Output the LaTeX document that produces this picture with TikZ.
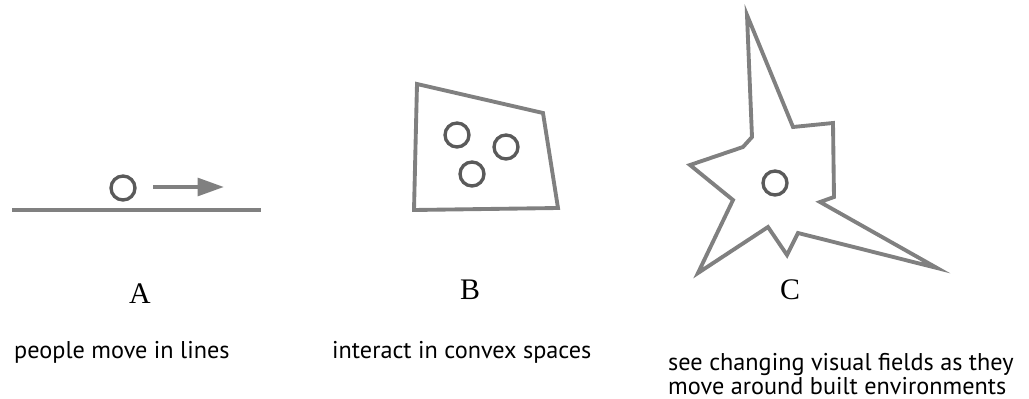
\documentclass[tikz,border=0pt]{standalone}
\usepackage{fontspec}
\setmainfont{Liberation Serif}
\setsansfont{PT Sans}
\usetikzlibrary{positioning,arrows.meta}

\definecolor{linegray}{RGB}{128,128,128}
\definecolor{ringgray}{RGB}{90,90,90}

\tikzset{
  wall/.style={draw=linegray, line width=2.2pt, line join=miter},
  person/.style={draw=ringgray, line width=1.9pt},
  letter/.style={font=\fontsize{17}{20}\selectfont},
  caption/.style={font=\sffamily\fontsize{13.8}{12.5}\selectfont, align=left}
}

\begin{document}
\begin{tikzpicture}[x=0.02cm,y=-0.02cm]

%%% 枠
\useasboundingbox (0,0) rectangle (1029,399);

%% A : 線
\draw[wall] (12,210) --(261,210);
\draw[person] (123,188) circle (12);
\coordinate (aFrom) at (153,187);
\coordinate (aTo) at (224,187);
\draw[draw=linegray, line width=2.3pt, -{Triangle[length=15pt,width=10pt]}] (aFrom) --(aTo);

%% B : 凸空間
\draw[wall] (417,84) --(543,113) --(558,208) --(414,210) --cycle;
\draw[person] (457,135) circle (12);
\draw[person] (506,147) circle (12);
\draw[person] (472,174) circle (12);

%% C : 視野
\draw[wall] (747,15) --(793,127) --(833,123) --(834,197) --(820,202)
  --(937,268) --(798,233) --(787,255) --(768,227) --(698,273)
  --(733,200) --(690,165) --(743,147) --(752,137) --cycle;
\draw[person] (775,183) circle (12);

%% 文字
\node[letter] (labA) at (140,294) {A};
\node[letter] (labB) at (470,290) {B};
\node[letter] (labC) at (790,290) {C};

\node[caption, anchor=west] (capA) at (8,352) {people move in lines};
\node[caption, anchor=west] (capB) at (326,352) {interact in convex spaces};
\node[caption, anchor=west] (capC) at (662,374) {see changing visual fields as they\\move around built environments};

\end{tikzpicture}
\end{document}
